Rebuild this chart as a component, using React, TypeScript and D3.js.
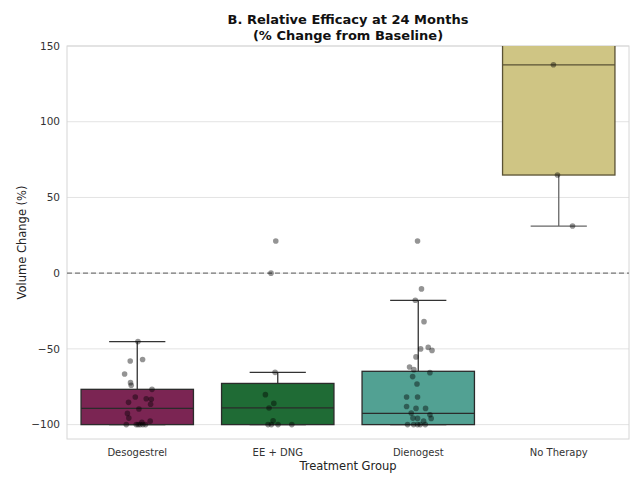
import React from 'react';
import * as d3 from 'd3';

const groups = ['Desogestrel', 'EE + DNG', 'Dienogest', 'No Therapy'];
const fills = ['#7b2553', '#1f6b35', '#52a193', '#cfc584'];
const edges = ['#2b2b2b', '#2b2b2b', '#2b2b2b', '#5a5234'];

// box stats per group: q1, median, q3, lower whisker, upper whisker
const q1 = [-100, -100, -100, 64.8];
const medians = [-89.3, -89, -92.6, 137.6];
const q3 = [-76.7, -72.8, -64.8, 200];
const whiskLo = [-100, -100, -100, 31.1];
const whiskHi = [-45.2, -65.5, -17.9, 200];

// observed points: value and jitter (fraction of band width)
const desoVals = [-45.2, -58, -57, -66.6, -72.3, -74, -76.7, -81.8, -82.9, -83.3, -85.3, -86.6, -89.7, -92.6, -95.7, -97.7, -98.5, -100, -100, -100, -100, -100, -100];
const desoJit = [0.005, -0.05, 0.038, -0.09, -0.048, -0.043, 0.105, -0.014, 0.064, 0.1, -0.062, 0.095, 0.012, -0.07, -0.06, 0.092, 0.033, -0.078, -0.007, 0.007, 0.021, 0.04, 0.059];
const eeVals = [21.2, 0, -65.5, -80.2, -86, -89, -97.4, -100, -100, -100, -100];
const eeJit = [-0.014, -0.048, -0.019, -0.088, -0.028, -0.062, -0.033, -0.069, -0.045, 0.002, 0.1];
const dieVals = [21.2, -10.4, -17.9, -32, -50, -49, -51, -55.3, -62, -63.7, -65.7, -68.3, -73.2, -81.8, -81.8, -88, -89.3, -89.3, -92.4, -93.5, -95.7, -95.9, -95.9, -97.7, -100, -100, -100, -100, -100];
const dieJit = [-0.005, 0.023, -0.021, 0.041, 0.017, 0.071, 0.098, -0.016, -0.062, -0.031, 0.083, -0.04, -0.009, -0.083, -0.005, -0.083, -0.016, 0.052, -0.05, 0.083, -0.038, -0.005, 0.092, 0.038, -0.076, -0.033, -0.005, 0.014, 0.05];
const noVals = [137.6, 64.8, 31.1];
const noJit = [-0.038, -0.009, 0.098];

const pointVals = [desoVals, eeVals, dieVals, noVals];
const pointJit = [desoJit, eeJit, dieJit, noJit];

const yTicks = [-100, -50, 0, 50, 100, 150];

const W = 643;
const H = 495;
const margin = { top: 46, right: 14, bottom: 56, left: 67 };

export default function App() {
  const innerW = W - margin.left - margin.right;
  const innerH = H - margin.top - margin.bottom;

  const x = d3.scaleBand().domain(groups).range([0, innerW]).padding(0);
  const y = d3.scaleLinear().domain([-109.5, 150]).range([innerH, 0]);
  const bw = x.bandwidth();
  const boxW = bw * 0.8;
  const font = 'DejaVu Sans, sans-serif';

  return (
    <svg width={W} height={H} style={{ position: 'absolute', left: 0, top: 0, background: '#fff' }} fontFamily={font}>
      <defs>
        <clipPath id="plot">
          <rect x={0} y={0} width={innerW} height={innerH} />
        </clipPath>
      </defs>
      <text x={margin.left + innerW / 2} y={24} textAnchor="middle" fontSize={13} fontWeight="bold" fill="#111">
        B. Relative Efficacy at 24 Months
      </text>
      <text x={margin.left + innerW / 2} y={40} textAnchor="middle" fontSize={13} fontWeight="bold" fill="#111">
        (% Change from Baseline)
      </text>
      <g transform={`translate(${margin.left},${margin.top})`}>
        {yTicks.map(t => (
          <g key={t}>
            <line x1={0} x2={innerW} y1={y(t)} y2={y(t)} stroke="#e3e3e3" strokeWidth={1} />
            <text x={-7} y={y(t)} dy="0.35em" textAnchor="end" fontSize={10.5} fill="#333">
              {t < 0 ? `\u2212${Math.abs(t)}` : t}
            </text>
          </g>
        ))}
        <rect x={0} y={0} width={innerW} height={innerH} fill="none" stroke="#d6d6d6" strokeWidth={1} />
        <line x1={0} x2={innerW} y1={y(0)} y2={y(0)} stroke="#777" strokeWidth={1.3} strokeDasharray="5,3" />
        <g clipPath="url(#plot)">
          {groups.map((g, i) => {
            const cx = (x(g) || 0) + bw / 2;
            const wc = i === 3 ? '#666' : '#333';
            return (
              <g key={g}>
                <line x1={cx} x2={cx} y1={y(q3[i])} y2={y(whiskHi[i])} stroke={wc} strokeWidth={1.3} />
                <line x1={cx} x2={cx} y1={y(q1[i])} y2={y(whiskLo[i])} stroke={wc} strokeWidth={1.3} />
                <line x1={cx - boxW / 4} x2={cx + boxW / 4} y1={y(whiskHi[i])} y2={y(whiskHi[i])} stroke={wc} strokeWidth={1.3} />
                <line x1={cx - boxW / 4} x2={cx + boxW / 4} y1={y(whiskLo[i])} y2={y(whiskLo[i])} stroke={wc} strokeWidth={1.3} />
                <rect x={cx - boxW / 2} y={y(q3[i])} width={boxW} height={y(q1[i]) - y(q3[i])} fill={fills[i]} stroke={edges[i]} strokeWidth={1.3} />
                <line x1={cx - boxW / 2} x2={cx + boxW / 2} y1={y(medians[i])} y2={y(medians[i])} stroke={edges[i]} strokeWidth={1.3} />
              </g>
            );
          })}
          {groups.map((g, i) => {
            const cx = (x(g) || 0) + bw / 2;
            return pointVals[i].map((v, j) => (
              <circle key={`${g}-${j}`} cx={cx + pointJit[i][j] * bw} cy={y(v)} r={2.8} fill="#000" fillOpacity={0.42} />
            ));
          })}
        </g>
        {groups.map(g => (
          <text key={g} x={(x(g) || 0) + bw / 2} y={innerH + 17} textAnchor="middle" fontSize={10} fill="#333">
            {g}
          </text>
        ))}
        <text x={innerW / 2} y={innerH + 31} textAnchor="middle" fontSize={11.5} fill="#222">
          Treatment Group
        </text>
        <text transform={`translate(${-41},${innerH / 2}) rotate(-90)`} textAnchor="middle" fontSize={11.5} fill="#222">
          Volume Change (%)
        </text>
      </g>
    </svg>
  );
}
